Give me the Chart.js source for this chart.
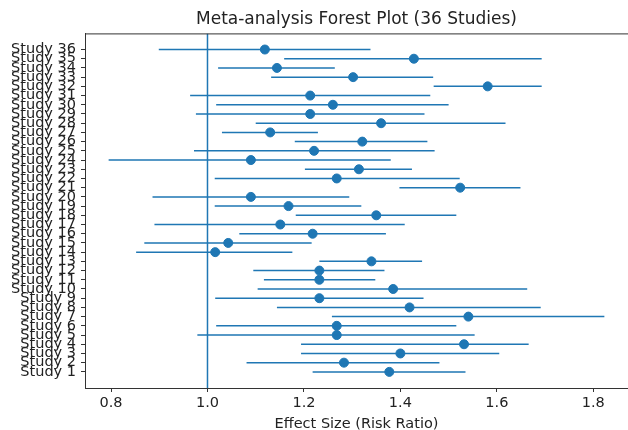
<!DOCTYPE html>
<html>
<head>
<meta charset="utf-8">
<script src="https://cdn.jsdelivr.net/npm/chart.js@4.4.0/dist/chart.umd.min.js"></script>
<style>
  html, body { margin: 0; padding: 0; background: #fff; }
  #forest { display: block; }
</style>
</head>
<body>
<canvas id="forest" width="628" height="430"></canvas>
<script>
// study numbers, bottom (1) to top (36)
const studies = Array.from({ length: 36 }, (_, i) => i + 1);
const studyLabels = studies.map(n => 'Study ' + n);

// point estimates (risk ratio), Study 1..36
const effect = [1.377, 1.283, 1.400, 1.532, 1.268, 1.268, 1.541, 1.419, 1.232, 1.385,
                1.232, 1.232, 1.340, 1.016, 1.043, 1.218, 1.151, 1.350, 1.168, 1.090,
                1.524, 1.268, 1.314, 1.090, 1.221, 1.321, 1.130, 1.360, 1.213, 1.260,
                1.213, 1.581, 1.302, 1.144, 1.428, 1.119];
// lower confidence bounds
const ciLow = [1.218, 1.081, 1.194, 1.194, 0.979, 1.018, 1.258, 1.144, 1.016, 1.104,
               1.117, 1.095, 1.232, 0.852, 0.869, 1.066, 0.890, 1.183, 1.015, 0.886,
               1.398, 1.015, 1.202, 0.795, 0.972, 1.181, 1.030, 1.100, 0.976, 1.018,
               0.964, 1.469, 1.132, 1.022, 1.159, 0.899];
// upper confidence bounds
const ciHigh = [1.535, 1.481, 1.605, 1.666, 1.554, 1.516, 1.823, 1.691, 1.448, 1.663,
                1.348, 1.367, 1.445, 1.176, 1.216, 1.370, 1.409, 1.516, 1.319, 1.294,
                1.649, 1.523, 1.424, 1.380, 1.471, 1.456, 1.229, 1.618, 1.450, 1.500,
                1.462, 1.693, 1.468, 1.264, 1.693, 1.338];

const xTicks = [0.8, 1.0, 1.2, 1.4, 1.6, 1.8];
const nullLine = 1.0;
const xMin = 0.746, xMax = 1.872;
const yMin = -0.75, yMax = 37.75;

const blue = '#1f77b4';
const font = "'DejaVu Sans', sans-serif";

// CI whiskers as one broken line (null breaks the path)
const whiskers = [];
studies.forEach((n, i) => {
    whiskers.push({ x: ciLow[i], y: n }, { x: ciHigh[i], y: n }, { x: null, y: null });
});

const frame = {
    id: 'frame',
    afterDraw(chart) {
        const a = chart.chartArea, c = chart.ctx;
        c.save();
        c.strokeStyle = '#333';
        c.lineWidth = 1;
        c.strokeRect(a.left + 0.5, a.top + 0.5, a.right - a.left, a.bottom - a.top);
        c.restore();
    }
};

new Chart(document.getElementById('forest'), {
    type: 'line',
    data: {
        datasets: [{
            data: [{ x: nullLine, y: yMin }, { x: nullLine, y: yMax }],
            borderColor: blue,
            borderWidth: 1.5,
            pointRadius: 0
        }, {
            data: whiskers,
            borderColor: blue,
            borderWidth: 1.5,
            pointRadius: 0,
            spanGaps: false
        }, {
            data: studies.map((n, i) => ({ x: effect[i], y: n })),
            showLine: false,
            pointRadius: 4.5,
            pointBackgroundColor: blue,
            pointBorderColor: blue
        }]
    },
    plugins: [frame],
    options: {
        responsive: false,
        animation: false,
        // the axes run a little past the right edge, as in the reference crop
        layout: { autoPadding: false, padding: { left: 0, right: -9, top: 0, bottom: -3 } },
        plugins: {
            legend: { display: false },
            tooltip: { enabled: false },
            title: {
                display: true,
                fullSize: false,
                text: 'Meta-analysis Forest Plot (36 Studies)',
                color: '#222',
                font: { family: font, size: 17, weight: 'normal' },
                padding: { top: 9, bottom: 4 }
            }
        },
        scales: {
            x: {
                type: 'linear',
                min: xMin,
                max: xMax,
                afterBuildTicks: s => { s.ticks = xTicks.map(v => ({ value: v })); },
                afterFit: s => { s.height = 45; },
                ticks: {
                    color: '#222',
                    font: { family: font, size: 14.5 },
                    padding: 3,
                    callback: v => v.toFixed(1)
                },
                grid: { drawOnChartArea: false, color: '#333', tickLength: 4 },
                border: { color: '#333' },
                title: {
                    display: true,
                    text: 'Effect Size (Risk Ratio)',
                    color: '#222',
                    font: { family: font, size: 14.5 },
                    padding: { top: 0, bottom: 0 }
                }
            },
            y: {
                type: 'linear',
                min: yMin,
                max: yMax,
                afterBuildTicks: s => { s.ticks = studies.map(v => ({ value: v })); },
                afterFit: s => { s.width = 85; },
                ticks: {
                    autoSkip: false,
                    color: '#222',
                    font: { family: font, size: 14.5 },
                    padding: 5,
                    callback: v => studyLabels[v - 1]
                },
                grid: { drawOnChartArea: false, color: '#333', tickLength: 4 },
                border: { color: '#333' }
            }
        }
    }
});
</script>
</body>
</html>
